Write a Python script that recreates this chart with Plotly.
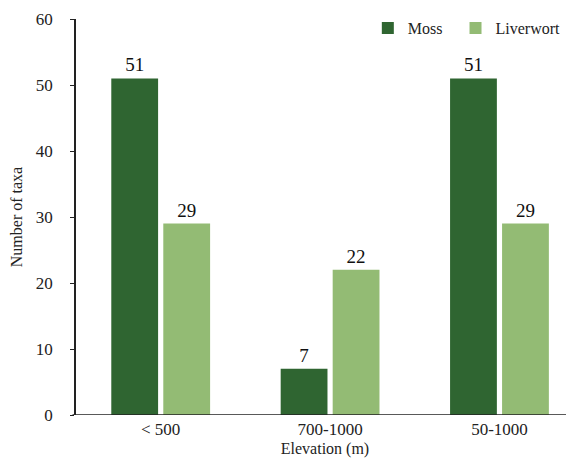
import plotly.graph_objects as go

categories = ["< 500", "700-1000", "50-1000"]
moss = [51, 7, 51]
liverwort = [29, 22, 29]
y_ticks = [0, 10, 20, 30, 40, 50, 60]

MOSS_COLOR = "#2F6531"
LIV_COLOR = "#93BB74"
FONT = "Liberation Serif, Times New Roman, serif"

fig = go.Figure()
fig.add_trace(go.Bar(x=categories, y=moss, name="Moss\u00a0\u00a0", marker_color=MOSS_COLOR,
                     marker_line_width=0, text=moss, textposition="outside",
                     textfont=dict(size=19, color="#111"), cliponaxis=False))
fig.add_trace(go.Bar(x=categories, y=liverwort, name="Liverwort", marker_color=LIV_COLOR,
                     marker_line_width=0, text=liverwort, textposition="outside",
                     textfont=dict(size=19, color="#111"), cliponaxis=False))

# page body adds an 8px margin on the left and top, so the figure is 8px smaller
fig.update_layout(
    width=566, height=458,
    margin=dict(l=68, r=0, t=11, b=51, autoexpand=False),
    paper_bgcolor="white", plot_bgcolor="white",
    font=dict(family=FONT, size=16, color="#222"),
    barmode="group", bargap=0.386, bargroupgap=0.1,
    showlegend=True,
    legend=dict(orientation="h", x=0.586, xanchor="left", y=1.02, yanchor="top",
                font=dict(size=16, color="#222"), bgcolor="rgba(0,0,0,0)",
                itemwidth=30, traceorder="normal"),
    xaxis=dict(range=[-0.5, 2.44], showline=False, ticks="", showgrid=False,
               tickfont=dict(size=17), ticklabelstandoff=2,
               title=dict(text="Elevation (m)", font=dict(size=16), standoff=4)),
    yaxis=dict(range=[0, 60], tickvals=y_ticks, showline=True, linecolor="#222", linewidth=1.5,
               ticks="outside", ticklen=4, tickcolor="#222", showgrid=False, zeroline=False,
               tickfont=dict(size=17), ticklabelstandoff=14,
               title=dict(text="Number of taxa", font=dict(size=16), standoff=10)),
)
fig.add_shape(type="line", xref="paper", yref="y", x0=-0.007, x1=1, y0=0, y1=0,
              line=dict(color="#222", width=1.5), layer="above")

fig.write_html("out.html")
